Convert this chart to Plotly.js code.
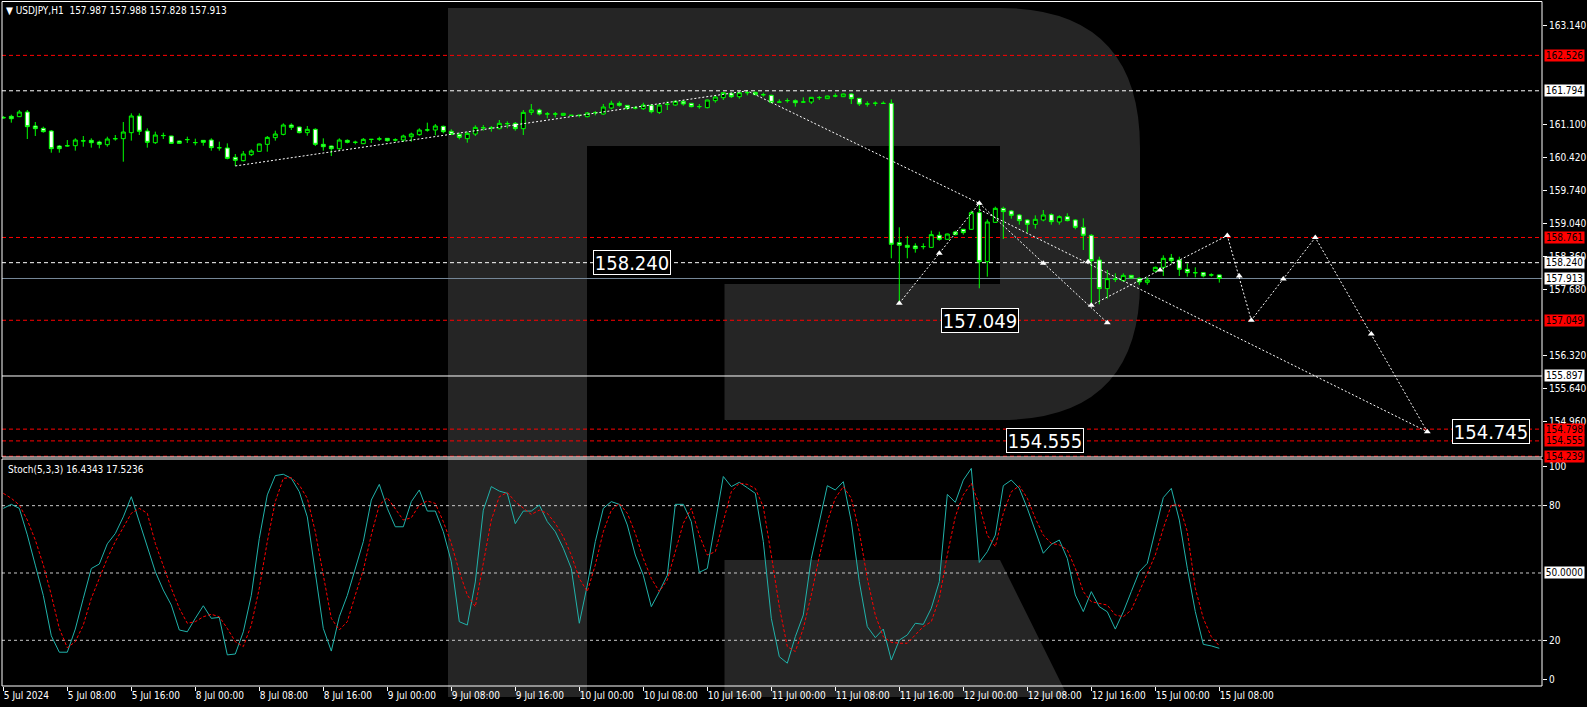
<!DOCTYPE html>
<html><head><meta charset="utf-8">
<script src="https://cdn.plot.ly/plotly-3.0.1.min.js"></script>
<style>html,body{margin:0;padding:0;background:#000;}#chart{width:1587px;height:707px;}</style>
</head><body><div id="chart"></div>
<script>
// ---------- DATA ----------
const timeLabels = ["5 Jul 2024","5 Jul 08:00","5 Jul 16:00","8 Jul 00:00","8 Jul 08:00","8 Jul 16:00","9 Jul 00:00","9 Jul 08:00","9 Jul 16:00","10 Jul 00:00","10 Jul 08:00","10 Jul 16:00","11 Jul 00:00","11 Jul 08:00","11 Jul 16:00","12 Jul 00:00","12 Jul 08:00","12 Jul 16:00","15 Jul 00:00","15 Jul 08:00"];
const timeLabelBars = [0,8,16,24,32,40,48,56,64,72,80,88,96,104,112,120,128,136,144,152];

const opens = [161.245,161.266,161.259,161.355,161.066,161.018,160.962,160.652,160.660,160.659,160.756,160.769,160.735,160.680,160.800,160.804,160.928,161.273,160.962,160.721,160.866,160.859,160.756,160.783,160.721,160.769,160.776,160.618,160.611,160.418,160.349,160.473,160.542,160.687,160.825,160.893,161.086,161.045,160.928,160.997,160.687,160.652,160.597,160.769,160.728,160.700,160.788,160.795,160.811,160.776,160.776,160.845,160.887,160.983,160.983,161.059,160.956,160.893,160.804,160.900,161.031,161.029,161.011,161.116,161.121,161.011,161.348,161.397,161.314,161.316,161.286,161.288,161.285,161.259,161.342,161.314,161.438,161.535,161.493,161.438,161.424,161.493,161.348,161.514,161.500,161.576,161.535,161.466,161.445,161.590,161.652,161.741,161.672,161.755,161.762,161.714,161.700,161.562,161.590,161.590,161.561,161.562,161.652,161.631,161.686,161.672,161.728,161.638,161.521,161.535,161.535,161.535,158.654,158.599,158.585,158.571,158.557,158.806,158.723,158.875,158.930,158.930,159.274,158.261,159.074,159.364,159.309,159.226,159.123,159.033,159.123,159.233,159.081,159.192,159.123,158.971,158.806,158.296,157.703,157.896,157.868,157.978,157.916,157.834,158.068,158.144,158.337,158.296,158.103,158.034,158.034,157.985,157.987];
const highs = [161.270,161.300,161.397,161.397,161.149,161.052,160.983,160.673,160.776,160.811,160.859,160.811,160.763,160.845,160.880,161.149,161.328,161.328,161.018,160.949,160.928,160.864,160.763,160.845,160.804,160.772,160.811,160.742,160.707,160.487,160.549,160.583,160.700,160.859,160.969,161.121,161.121,161.052,161.066,161.018,160.811,160.660,160.811,160.790,160.763,160.818,160.792,160.845,160.813,160.811,160.887,160.928,161.018,161.135,161.107,161.073,160.997,160.928,160.949,161.080,161.086,161.066,161.190,161.162,161.149,161.397,161.521,161.424,161.355,161.355,161.335,161.293,161.300,161.355,161.376,161.521,161.590,161.576,161.500,161.479,161.548,161.521,161.521,161.576,161.603,161.603,161.540,161.521,161.610,161.700,161.769,161.755,161.769,161.794,161.776,161.755,161.714,161.617,161.638,161.617,161.659,161.665,161.686,161.690,161.741,161.735,161.741,161.640,161.576,161.576,161.576,161.617,158.971,158.792,158.640,158.640,158.902,158.881,158.840,158.902,158.935,159.316,159.467,159.136,159.398,159.398,159.329,159.247,159.136,159.219,159.329,159.261,159.219,159.261,159.136,159.157,158.833,158.364,158.089,158.020,158.020,157.985,157.937,157.937,158.158,158.392,158.420,158.364,158.227,158.144,158.047,158.020,157.988];
const lows = [161.220,161.135,161.250,160.797,160.859,160.928,160.514,160.514,160.638,160.556,160.638,160.618,160.604,160.638,160.763,160.328,160.763,160.880,160.618,160.694,160.797,160.702,160.700,160.714,160.666,160.659,160.556,160.556,160.377,160.239,160.335,160.445,160.535,160.535,160.763,160.873,160.983,160.914,160.866,160.652,160.556,160.445,160.570,160.707,160.687,160.694,160.714,160.756,160.742,160.742,160.735,160.742,160.866,160.949,160.873,160.914,160.880,160.790,160.721,160.859,160.969,160.949,160.997,161.018,160.969,160.880,161.293,161.286,161.224,161.245,161.280,161.280,161.245,161.245,161.286,161.300,161.410,161.466,161.397,161.410,161.397,161.328,161.314,161.397,161.486,161.486,161.452,161.424,161.431,161.548,161.603,161.645,161.631,161.700,161.700,161.672,161.535,161.548,161.548,161.466,161.548,161.521,161.603,161.625,161.659,161.665,161.521,161.479,161.466,161.479,161.521,158.330,157.400,158.330,158.447,158.516,158.550,158.695,158.716,158.806,158.819,158.916,157.710,157.951,159.068,158.730,159.150,159.026,158.861,158.943,159.095,159.026,159.026,159.095,158.930,158.502,157.400,157.379,157.496,157.841,157.847,157.910,157.779,157.785,158.047,157.965,158.227,157.965,157.951,157.937,157.937,157.951,157.828];
const closes = [161.235,161.217,161.355,161.052,161.011,160.949,160.597,160.597,160.655,160.776,160.760,160.721,160.687,160.797,160.805,160.942,161.273,160.956,160.728,160.880,160.870,160.707,160.707,160.786,160.724,160.728,160.618,160.615,160.397,160.356,160.487,160.549,160.694,160.831,160.900,161.086,161.038,160.928,160.997,160.687,160.638,160.597,160.776,160.728,160.730,160.790,160.790,160.800,160.763,160.780,160.859,160.900,160.983,160.985,161.066,160.949,160.893,160.831,160.914,161.038,161.030,161.032,161.121,161.114,161.011,161.348,161.397,161.314,161.316,161.313,161.328,161.286,161.287,161.335,161.344,161.459,161.535,161.493,161.431,161.440,161.500,161.362,161.500,161.516,161.576,161.521,161.466,161.468,161.603,161.665,161.755,161.672,161.755,161.757,161.714,161.712,161.555,161.560,161.592,161.548,161.563,161.659,161.654,161.686,161.688,161.728,161.631,161.521,161.523,161.537,161.533,158.620,158.599,158.557,158.530,158.573,158.819,158.723,158.833,158.819,158.861,159.274,158.261,159.081,159.364,159.295,159.219,159.109,159.033,159.136,159.226,159.088,159.192,159.109,158.971,158.806,158.282,157.703,157.910,157.898,157.978,157.923,157.841,157.882,158.144,158.330,158.282,158.103,158.034,158.032,157.965,157.987,157.913];

const stochMain = [78.8,80.6,78.8,67,53.5,40,22,14.7,14.7,25,38.7,52,54,63,67.6,75,84,73,61,50.6,42.4,35.7,24.6,23.8,29.8,35.4,29.8,30.2,13.5,13.9,23.8,40,65.4,84.8,93.4,94,92.2,86.2,75,50.6,25.3,15.2,30.5,40,52,64,82.5,89.5,78.8,70.6,70.6,81.8,87,77.6,77.6,68.4,55,28.3,26.8,46,78,88.5,86.5,85.5,72,77.6,77.6,80.3,72.9,68.4,61,52,27.6,44.6,64,78.8,81.8,80.6,71.4,58,49,35,41.7,49,80.6,80.6,72.9,50.3,52,72.9,93,88.5,90.4,88,85.5,64,29.8,12.7,9.8,21.6,31.3,56.5,72.9,88.9,87,90.7,72.9,46.1,26.1,21.2,25,11.2,20.1,22.4,27.6,27.1,34.3,46.1,85,81.5,91.4,96.6,54.7,59.5,66.9,88.9,91.4,87.7,78.8,69.2,58.8,62.8,64.7,56.5,40.2,32.8,41.7,35,32.7,25,32.7,41.7,50.6,54.3,68.4,83.6,87.7,73.6,52.1,32.8,18.2,17.5,16.4343];
const stochSignal = [85.5,83.3,80.3,73.6,64.7,53.6,40.2,25.3,16.7,19.4,26.8,38.7,47.6,56.5,64,70.6,76.6,78.8,76.6,63.2,52.8,43.2,34.3,27.6,28.3,30.5,31.6,30.5,25.3,19.4,17.2,26.8,43.2,64,81.8,92.2,92.5,89.2,83.3,68.4,49.1,29.8,24.6,28.3,40.2,51.3,66.9,80.3,83.6,78.8,73.6,74.6,80.3,82.1,81,72.9,63.2,50.6,40.2,35,53.6,73.6,84,85.9,81.8,78.8,76.1,78,76.6,72.1,66.2,58,47.6,41.7,53.6,68.4,78,81,76.6,67.7,56.5,47.6,41.7,46.9,59.5,72.1,78.8,66.9,58,59.5,72.9,86.2,90,89.5,87.7,79.5,58,35,17.2,15,25.3,40.2,57.3,72.9,83.3,88.5,83.3,68.4,47.6,31.3,21.6,19.1,18.7,18.7,22.4,26.1,28.3,38.7,58,75.1,84.8,90,80.3,66.9,61.7,76.6,86.2,88.9,83.3,74.4,66.9,63.2,62.5,60.3,52.1,41.7,37.2,36.5,35.7,31.3,30.5,33.5,41.7,49.1,58,69.9,80.3,80.3,68.4,43.2,29.8,21.6,17.5236];
const stochLevels = [80, 50, 20];

const priceTicks = [163.14,161.10,160.42,159.74,159.04,158.36,157.68,156.32,155.64,154.96];

const levelPrices = [162.526,161.794,158.761,158.240,157.913,157.049,155.897,154.798,154.555,154.239];
const levelKinds  = ["target","swing","target","pivot","bid","target","range","target","target","target"];

// forecast / analysis lines (bar index, price)
const swingBars = [29, 93, 122];           const swingPrices = [160.24, 161.794, 159.467];
const reboundBars = [112, 122];            const reboundPrices = [157.40, 159.467];
const dropBars = [122, 138];               const dropPrices = [159.467, 157.00];
const trendBars = [122, 178];              const trendPrices = [159.34, 154.745];
const zigzagBars = [136, 153, 156, 164, 178]; const zigzagPrices = [157.36, 158.80, 157.05, 158.76, 154.745];
const markBars = [112, 117, 122, 130, 135.6, 136, 138, 144.6, 153, 154.5, 156, 160, 164, 171, 178];
const markPrices = [157.40, 158.434, 159.467, 158.227, 158.26, 157.36, 157.00, 158.09, 158.80, 157.964, 157.05, 157.902, 158.76, 156.765, 154.745];

const calloutPrices = [158.240, 157.049, 154.555, 154.745];

// ---------- LAYOUT HELPERS ----------
const W = 1587, H = 707;
const px = x => x / W, py = y => 1 - y / H;
const NARROW = "'Liberation Sans Narrow','DejaVu Sans Condensed','Arial Narrow',sans-serif";
const bars = opens.map((_, i) => i);

const traces = [];
traces.push({
  type: 'candlestick', x: bars, open: opens, high: highs, low: lows, close: closes,
  xaxis: 'x', yaxis: 'y', whiskerwidth: 0, hoverinfo: 'skip',
  increasing: {line: {color: '#00FF00', width: 1}, fillcolor: '#000000'},
  decreasing: {line: {color: '#00FF00', width: 1}, fillcolor: '#FFFFFF'}
});
const dotted = {color: '#FFFFFF', width: 1, dash: '2px,2px'};
[[swingBars, swingPrices], [reboundBars, reboundPrices], [dropBars, dropPrices],
 [trendBars, trendPrices], [zigzagBars, zigzagPrices]].forEach(([xs, ys]) => {
  traces.push({type: 'scatter', mode: 'lines', x: xs, y: ys, xaxis: 'x', yaxis: 'y',
    line: dotted, hoverinfo: 'skip'});
});
traces.push({type: 'scatter', mode: 'markers', x: markBars, y: markPrices, xaxis: 'x', yaxis: 'y',
  marker: {symbol: 'triangle-up', size: 6, color: '#FFFFFF'}, hoverinfo: 'skip'});
traces.push({type: 'scatter', mode: 'lines', x: bars, y: stochMain, xaxis: 'x', yaxis: 'y2',
  line: {color: '#20B2AA', width: 1}, hoverinfo: 'skip'});
traces.push({type: 'scatter', mode: 'lines', x: bars, y: stochSignal, xaxis: 'x', yaxis: 'y2',
  line: {color: '#FF0000', width: 1, dash: '3px,2px'}, hoverinfo: 'skip'});

const levelStyle = {
  target: {color: '#FF0000', dash: '4px,3px', box: '#FF0000'},
  swing:  {color: '#FFFFFF', dash: '4px,3px', box: '#FFFFFF'},
  pivot:  {color: '#FFFFFF', dash: '4px,3px', box: '#FFFFFF'},
  bid:    {color: '#778899', dash: 'solid',   box: '#FFFFFF'},
  range:  {color: '#FFFFFF', dash: 'solid',   box: '#FFFFFF'}
};

const X0 = px(2), X1 = px(1542);
const shapes = [];
// watermark "R" (stem + bowl, and the separate leg)
const P = (x, y) => `${px(x)},${py(y)}`;
const rPath = `M ${P(448,8)} L ${P(1000,8)} Q ${P(1140,8)} ${P(1140,148)} L ${P(1140,282)} Q ${P(1140,420)} ${P(1000,420)} ` +
              `L ${P(724.5,420)} L ${P(724.5,284)} L ${P(1000,284)} L ${P(1000,146)} L ${P(587,146)} L ${P(587,697)} L ${P(448,697)} Z ` +
              `M ${P(724.5,560)} L ${P(1000,560)} L ${P(1068,697)} L ${P(724.5,697)} Z`;
shapes.push({type: 'path', path: rPath, xref: 'paper', yref: 'paper', fillcolor: '#252525', line: {width: 0}, layer: 'below'});

levelPrices.forEach((p, k) => {
  const st = levelStyle[levelKinds[k]];
  shapes.push({type: 'line', xref: 'paper', yref: 'y', x0: X0, x1: X1, y0: p, y1: p,
    line: {color: st.color, width: 1, dash: st.dash}, layer: 'below'});
});
stochLevels.forEach(v => {
  shapes.push({type: 'line', xref: 'paper', yref: 'y2', x0: X0, x1: X1, y0: v, y1: v,
    line: {color: '#C8C8C8', width: 1, dash: '3px,3px'}, layer: 'below'});
});
// panel frames
shapes.push({type: 'rect', xref: 'paper', yref: 'paper', x0: X0, x1: X1, y0: py(457), y1: py(1.5), line: {color: '#FFFFFF', width: 1}});
shapes.push({type: 'rect', xref: 'paper', yref: 'paper', x0: X0, x1: X1, y0: py(686), y1: py(459), line: {color: '#FFFFFF', width: 1}});

const annotations = [];
annotations.push({xref: 'paper', yref: 'paper', x: px(4), y: py(10), xanchor: 'left', yanchor: 'middle', showarrow: false,
  text: '▼ USDJPY,H1  157.987 157.988 157.828 157.913', font: {family: NARROW, size: 10, color: '#FFFFFF'}});
annotations.push({xref: 'paper', yref: 'paper', x: px(6), y: py(469), xanchor: 'left', yanchor: 'middle', showarrow: false,
  text: 'Stoch(5,3,3) ' + stochMain[stochMain.length-1].toFixed(4) + ' ' + stochSignal[stochSignal.length-1].toFixed(4),
  font: {family: NARROW, size: 10, color: '#FFFFFF'}});
levelPrices.forEach((p, k) => {
  const st = levelStyle[levelKinds[k]];
  annotations.push({xref: 'paper', yref: 'y', x: px(1544), y: p, xanchor: 'left', yanchor: 'middle', showarrow: false,
    text: p.toFixed(3), bgcolor: st.box, borderpad: 0, width: 39, height: 11,
    font: {family: NARROW, size: 10, color: '#000000'}});
});
annotations.push({xref: 'paper', yref: 'y2', x: px(1544), y: 50, xanchor: 'left', yanchor: 'middle', showarrow: false,
  text: (50).toFixed(4), bgcolor: '#FFFFFF', borderpad: 0, width: 39, height: 11,
  font: {family: NARROW, size: 10, color: '#000000'}});
const calloutBars = [78.6, 122.1, 130.2, 186];
calloutPrices.forEach((p, k) => {
  annotations.push({xref: 'x', yref: 'y', x: calloutBars[k], y: p, xanchor: 'center', yanchor: 'middle', showarrow: false,
    text: p.toFixed(3), bgcolor: '#000000', bordercolor: '#FFFFFF', borderwidth: 1, borderpad: 0, width: 76, height: 23,
    font: {family: NARROW, size: 20, color: '#FFFFFF'}});
});

const axisFont = {family: NARROW, size: 10, color: '#FFFFFF'};
const layout = {
  width: W, height: H, margin: {l: 0, r: 0, t: 0, b: 0},
  paper_bgcolor: '#000000', plot_bgcolor: 'rgba(0,0,0,0)',
  showlegend: false, hovermode: false,
  xaxis: {domain: [X0, X1], range: [-0.1625, 192.3375], anchor: 'y2', fixedrange: true,
    rangeslider: {visible: false}, showgrid: false, zeroline: false, showline: false,
    tickmode: 'array', tickvals: timeLabelBars, ticktext: timeLabels, ticks: 'outside', ticklen: 4,
    tickcolor: '#FFFFFF', tickfont: axisFont, ticklabelposition: 'outside right', automargin: false},
  yaxis: {domain: [py(457), py(2)], range: [154.222, 163.630], anchor: 'x', side: 'right', fixedrange: true,
    showgrid: false, zeroline: false, showline: false,
    tickmode: 'array', tickvals: priceTicks, ticktext: priceTicks.map(v => v.toFixed(3)),
    ticks: 'outside', ticklen: 4, tickcolor: '#FFFFFF', tickfont: axisFont, automargin: false},
  yaxis2: {domain: [py(686), py(459)], range: [-0.36, 100.8], anchor: 'x', side: 'right', fixedrange: true,
    showgrid: false, zeroline: false, showline: false,
    tickmode: 'array', tickvals: [2.5, 20, 80, 97.4], ticktext: ['0', '20', '80', '100'],
    ticks: 'outside', ticklen: 4, tickcolor: '#FFFFFF', tickfont: axisFont, automargin: false},
  shapes: shapes, annotations: annotations
};
Plotly.newPlot('chart', traces, layout, {staticPlot: true, displayModeBar: false});
</script></body></html>
